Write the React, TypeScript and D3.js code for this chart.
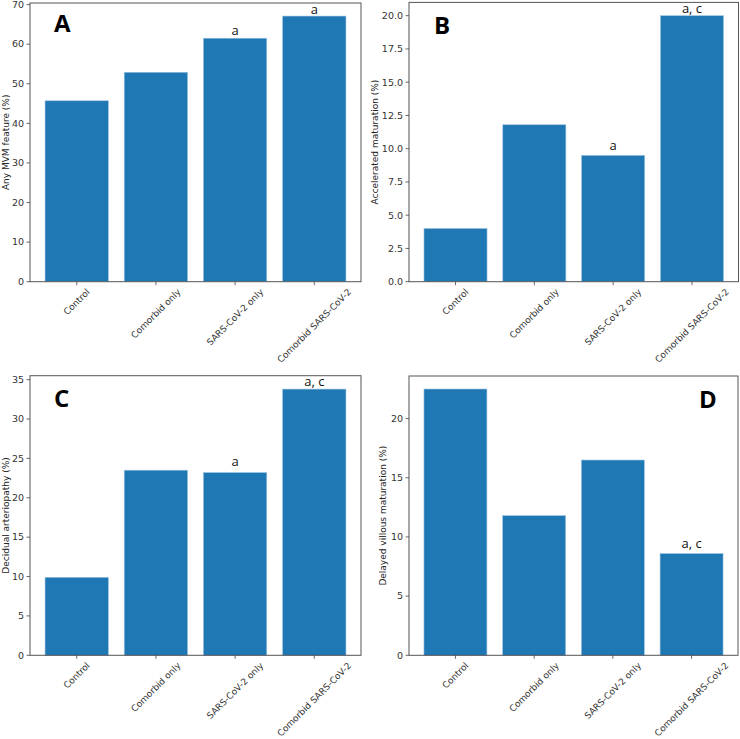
import React, { useEffect, useRef } from "react";
import * as d3 from "d3";

const categories = ["Control", "Comorbid only", "SARS-CoV-2 only", "Comorbid SARS-CoV-2"];

const anyMvm = [45.7, 52.9, 61.5, 67.1];
const acceleratedMaturation = [4.0, 11.8, 9.5, 20.0];
const decidualArteriopathy = [9.9, 23.5, 23.2, 33.8];
const delayedVillous = [22.5, 11.8, 16.5, 8.6];

const ticksA = [0, 10, 20, 30, 40, 50, 60, 70];
const ticksB = [0, 2.5, 5, 7.5, 10, 12.5, 15, 17.5, 20];
const ticksC = [0, 5, 10, 15, 20, 25, 30, 35];
const ticksD = [0, 5, 10, 15, 20];

// annotation labels per bar ("" = none), offset in px above bar
const annA = ["", "", "a", "a"];
const annB = ["", "", "a", "a, c"];
const annC = ["", "", "a", "a, c"];
const annD = ["", "", "", "a, c"];
const annOffA = [0, 0, 3, 2];
const annOffB = [0, 0, 5, 3];
const annOffC = [0, 0, 6.5, 3];
const annOffD = [0, 0, 0, 6];

const panels = [
  { letter: "A", values: anyMvm, ticks: ticksA, fmt: "d", ylabel: "Any MVM feature (%)", ann: annA, annOff: annOffA,
    left: 30, right: 361, top: 3, bottom: 281.7, ymax: 70.4, ylabX: 6, letterX: 54, letterY: 32 },
  { letter: "B", values: acceleratedMaturation, ticks: ticksB, fmt: ".1f", ylabel: "Accelerated maturation (%)", ann: annB, annOff: annOffB,
    left: 409, right: 738.5, top: 2.4, bottom: 281.7, ymax: 21, ylabX: 375.5, letterX: 434, letterY: 34 },
  { letter: "C", values: decidualArteriopathy, ticks: ticksC, fmt: "d", ylabel: "Decidual arteriopathy (%)", ann: annC, annOff: annOffC,
    left: 30, right: 361, top: 375.7, bottom: 655.3, ymax: 35.5, ylabX: 5.5, letterX: 54, letterY: 406.5 },
  { letter: "D", values: delayedVillous, ticks: ticksD, fmt: "d", ylabel: "Delayed villous maturation (%)", ann: annD, annOff: annOffD,
    left: 409, right: 738, top: 376, bottom: 655.3, ymax: 23.6, ylabX: 383, letterX: 699, letterY: 407.5 },
];

const BAR = "#1f77b4";
const TICKFONT = "DejaVu Sans, sans-serif";

export default function App() {
  const ref = useRef<SVGSVGElement>(null);

  useEffect(() => {
    const svg = d3.select(ref.current);
    svg.selectAll("*").remove();

    panels.forEach((p) => {
      const g = svg.append("g");
      const x = d3.scaleLinear().domain([-0.59, 3.59]).range([p.left, p.right]);
      const y = d3.scaleLinear().domain([0, p.ymax]).range([p.bottom, p.top]);
      const fmt = d3.format(p.fmt);

      // bars
      g.selectAll("rect.bar")
        .data(p.values)
        .enter()
        .append("rect")
        .attr("x", (_, i) => x(i - 0.4))
        .attr("width", (_, i) => x(i + 0.4) - x(i - 0.4))
        .attr("y", (d) => y(d))
        .attr("height", (d) => y(0) - y(d))
        .attr("fill", BAR)
        .attr("stroke", "#9cc3e2")
        .attr("stroke-width", 0.6);

      // frame
      g.append("rect")
        .attr("x", p.left)
        .attr("y", p.top)
        .attr("width", p.right - p.left)
        .attr("height", p.bottom - p.top)
        .attr("fill", "none")
        .attr("stroke", "#555")
        .attr("stroke-width", 1);

      // y ticks
      p.ticks.forEach((t) => {
        const yy = y(t);
        g.append("line")
          .attr("x1", p.left - 3.5).attr("x2", p.left)
          .attr("y1", yy).attr("y2", yy)
          .attr("stroke", "#444").attr("stroke-width", 0.8);
        g.append("text")
          .attr("x", p.left - 6)
          .attr("y", yy)
          .attr("dy", "0.35em")
          .attr("text-anchor", "end")
          .attr("font-family", TICKFONT)
          .attr("font-size", 9.5)
          .attr("fill", "#333")
          .text(fmt(t));
      });

      // x ticks
      categories.forEach((c, i) => {
        const xx = x(i);
        g.append("line")
          .attr("x1", xx).attr("x2", xx)
          .attr("y1", p.bottom).attr("y2", p.bottom + 3.5)
          .attr("stroke", "#444").attr("stroke-width", 0.8);
        const t = g.append("text")
          .attr("text-anchor", "middle")
          .attr("dominant-baseline", "central")
          .attr("font-family", TICKFONT)
          .attr("font-size", 9)
          .attr("fill", "#333")
          .text(c);
        const L = (t.node() as SVGTextElement).getComputedTextLength();
        const h = 9;
        const half = (L + h) / (2 * Math.SQRT2);
        const cy = p.bottom + 5.5 + half;
        t.attr("x", xx).attr("y", cy).attr("transform", `rotate(-45, ${xx}, ${cy})`);
      });

      // y label
      const cyMid = (p.top + p.bottom) / 2;
      g.append("text")
        .attr("x", p.ylabX)
        .attr("y", cyMid)
        .attr("text-anchor", "middle")
        .attr("dominant-baseline", "central")
        .attr("transform", `rotate(-90, ${p.ylabX}, ${cyMid})`)
        .attr("font-family", TICKFONT)
        .attr("font-size", 9)
        .attr("fill", "#222")
        .text(p.ylabel);

      // annotations
      p.values.forEach((v, i) => {
        if (!p.ann[i]) return;
        g.append("text")
          .attr("x", x(i))
          .attr("y", y(v) - p.annOff[i])
          .attr("text-anchor", "middle")
          .attr("font-family", "Open Sans, sans-serif")
          .attr("font-size", 13)
          .attr("fill", "#111")
          .text(p.ann[i]);
      });

      // panel letter
      g.append("text")
        .attr("x", p.letterX)
        .attr("y", p.letterY)
        .attr("font-family", "Open Sans, sans-serif")
        .attr("font-weight", 700)
        .attr("font-size", 24)
        .attr("fill", "#000")
        .text(p.letter);
    });
  }, []);

  return (
    <svg
      ref={ref}
      width={740}
      height={739}
      style={{ position: "absolute", left: 0, top: 0, background: "#fff" }}
    />
  );
}
